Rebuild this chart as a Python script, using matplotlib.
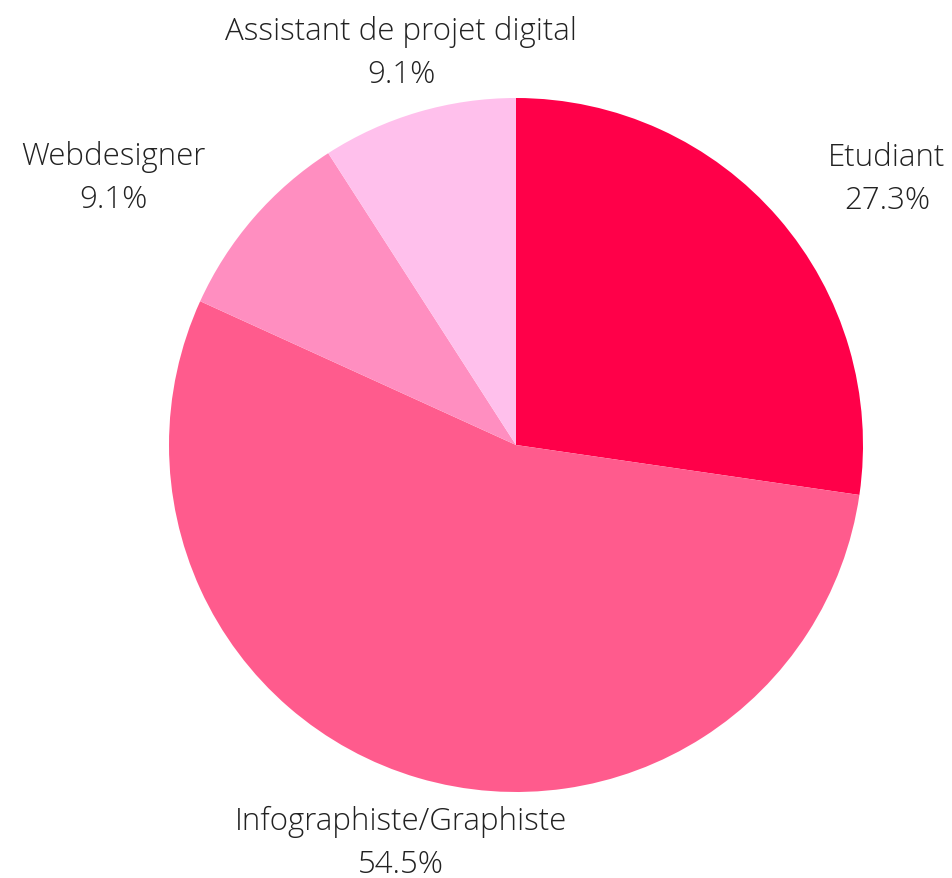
import matplotlib
matplotlib.use("Agg")
import matplotlib.pyplot as plt

labels = ["Etudiant", "Infographiste/Graphiste", "Webdesigner", "Assistant de projet digital"]
values = [27.3, 54.5, 9.1, 9.1]
colors = ["#ff0049", "#ff5b8d", "#ff8ec0", "#ffc0ec"]

# label positions, in units of pie radius
label_pos = [(1.069, 0.768), (-0.331, -1.145), (-1.161, 0.770), (-0.331, 1.130)]

plt.rcParams['font.family'] = ['Open Sans', 'DejaVu Sans']

fig = plt.figure(figsize=(9.53, 8.79), dpi=100)
ax = fig.add_axes([169 / 953, 86 / 879, 694 / 953, 694 / 879])

ax.pie(values, colors=colors, startangle=90, counterclock=False,
       radius=1.0, wedgeprops={"linewidth": 0})

for lab, val, (x, y) in zip(labels, values, label_pos):
    ax.text(x, y, f"{lab}\n{val:.1f}%", ha="center", va="center",
            multialignment="center", fontsize=22.5, fontweight="light",
            color="#222222", linespacing=1.45)

ax.set_xlim(-1, 1)
ax.set_ylim(-1, 1)
ax.set_aspect("auto")
ax.axis("off")

fig.savefig("out.png", dpi=100)
